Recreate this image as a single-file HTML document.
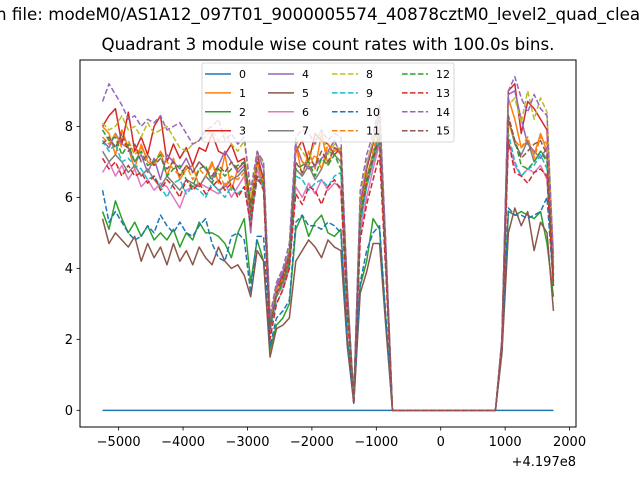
<!DOCTYPE html>
<html><head><meta charset="utf-8"><style>
body{margin:0;background:#fff;}
svg{display:block;font-family:"DejaVu Sans","Liberation Sans",sans-serif;}
</style></head><body>
<svg id="chart" width="640" height="480" viewBox="0 0 640 480" xmlns="http://www.w3.org/2000/svg">
<rect width="640" height="480" fill="#fff"/>
<text x="-4" y="20" font-size="16.7" fill="#000">n file: modeM0/AS1A12_097T01_9000005574_40878cztM0_level2_quad_clean</text>
<text x="328" y="50" font-size="16.7" text-anchor="middle" fill="#000">Quadrant 3 module wise count rates with 100.0s bins.</text>
<g id="plot"></g>
<rect x="80" y="60" width="496" height="367" fill="none" stroke="#000" stroke-width="1"/>
<g id="xticks"></g>
<g id="yticks"></g>
<text x="576" y="466" font-size="13" text-anchor="end">+4.197e8</text>
<g id="legend"></g>
</svg>
<script>
const xStart = -5250;
const xStep = 100;
const xTicks = [-5000,-4000,-3000,-2000,-1000,0,1000,2000];
const yTicks = [0,2,4,6,8];
const seriesNames = ["0","1","2","3","4","5","6","7","8","9","10","11","12","13","14","15"];
const Z = [0,0,0,0,0,0,0,0,0,0,0,0,0,0,0,0,0];
const s0 = new Array(71).fill(0);
const s1 = [8.0,7.8,7.2,7.9,7.4,6.8,7.5,7.0,6.9,7.3,6.6,7.1,6.5,6.8,6.9,6.3,6.6,7.0,6.4,7.2,6.2,6.8,7.0, 5.4,7.0,6.5,2.6,3.2,3.6,4.2, 7.5,6.6,7.3,6.8,7.8,6.9,7.4,7.2, 3.0,0.2,5.5,6.6,7.2,7.9,4.2, ...Z, 1.9, 8.8,8.2,7.4,7.6,7.2,7.8,7.3, 4.0];
const s2 = [5.6,5.1,5.9,5.4,5.0,5.3,4.9,5.2,4.8,5.0,4.8,5.1,4.6,5.0,4.8,5.3,5.0,5.0,4.9,4.7,4.3,5.0,5.4, 3.6,4.8,4.2,1.7,2.4,2.6,3.0, 5.1,5.5,4.9,5.3,5.5,5.0,4.9,5.1, 2.0,0.2,3.5,4.2,5.4,5.1,2.5, ...Z, 1.7, 5.6,5.5,5.6,5.5,5.4,5.6,4.7, 3.2];
const s3 = [8.0,8.3,8.5,7.5,8.4,7.3,7.7,7.2,8.0,8.3,7.0,7.5,7.1,7.4,6.9,7.4,7.3,7.8,7.3,7.2,7.5,7.0,7.1, 5.8,7.2,6.5,2.4,3.4,3.8,4.4, 7.3,7.6,7.0,7.8,7.6,7.5,7.2,7.4, 3.4,0.3,5.8,6.8,7.5,8.3,4.5, ...Z, 2.0, 9.0,9.2,7.8,8.7,8.5,8.2,7.9, 3.6];
const s4 = [7.6,7.4,7.8,7.5,7.4,7.0,7.2,6.7,7.1,6.5,7.2,7.0,6.8,7.1,6.7,7.0,6.8,6.5,6.9,7.3,7.0,6.7,6.9, 5.0,7.3,6.8,2.5,3.5,3.9,4.5, 7.5,7.0,6.8,6.9,7.1,7.3,7.6,7.2, 3.2,0.3,5.9,6.9,7.6,8.5,4.4, ...Z, 2.0, 8.9,9.0,8.2,7.5,7.3,7.1,7.4, 3.8];
const s5 = [5.4,4.7,5.0,4.8,4.6,4.9,4.2,4.7,4.3,4.6,4.1,4.7,4.2,4.5,4.1,4.6,4.3,4.1,4.6,4.2,4.0,4.1,3.8, 3.2,4.5,4.2,1.5,2.3,2.4,2.6, 4.2,4.5,4.8,4.6,4.3,4.8,4.6,4.5, 1.8,0.2,3.3,3.9,4.7,4.7,2.3, ...Z, 1.6, 5.0,5.7,5.2,5.6,4.5,5.3,5.0, 2.8];
const s6 = [6.7,7.0,6.6,6.9,6.5,6.8,6.3,6.5,6.2,6.4,6.3,6.0,5.7,6.2,6.3,6.4,6.3,6.2,6.1,6.4,6.0,6.3,6.6, 5.5,6.8,6.2,2.2,3.2,3.5,4.0, 6.3,6.0,6.4,6.1,6.5,6.2,6.4,6.3, 2.8,0.3,5.0,6.0,6.8,7.5,4.0, ...Z, 1.8, 7.6,6.9,6.6,6.8,6.7,6.9,6.5, 3.6];
const s7 = [7.3,7.0,7.2,7.0,6.7,6.9,6.6,6.8,6.5,6.3,6.6,6.4,6.2,6.5,6.4,6.3,6.6,6.4,6.2,6.3,6.5,6.6,6.8, 5.6,7.0,6.3,2.3,3.3,3.6,4.1, 6.8,6.6,6.9,6.5,6.8,7.3,7.2,7.0, 3.0,0.3,5.3,6.3,7.0,7.6,4.2, ...Z, 1.9, 8.2,7.5,7.2,7.6,7.0,7.3,7.1, 4.0];
const s8 = [8.1,7.9,8.0,8.3,7.9,8.0,7.7,8.1,7.8,7.9,8.0,7.7,7.4,7.3,7.5,7.6,7.7,7.9,7.6,7.8,7.5,7.3,7.6, 6.0,7.2,7.0,2.7,3.6,4.0,4.6, 7.6,7.3,7.0,7.6,7.9,7.2,7.5,7.3, 3.3,0.3,6.0,7.0,7.6,8.4,4.5, ...Z, 2.0, 8.6,8.8,8.1,9.0,8.2,8.8,8.4, 4.2];
const s9 = [7.6,7.3,7.5,7.0,7.1,6.9,6.8,6.5,6.6,6.3,6.0,6.4,6.5,6.1,6.3,6.2,6.0,6.4,6.2,6.0,6.3,6.1,6.3, 5.3,6.5,6.3,2.3,3.0,3.4,4.0, 6.6,6.5,6.2,6.4,6.5,6.3,6.6,6.7, 3.0,0.3,5.2,6.3,7.0,7.9,4.0, ...Z, 1.8, 7.8,7.0,6.6,6.8,6.9,7.2,6.8, 3.8];
const s10 = [6.2,5.3,5.6,5.3,5.0,4.8,4.9,5.2,5.0,5.5,5.2,5.0,5.3,5.0,4.9,5.2,5.4,4.7,4.3,4.2,4.9,5.0,4.8, 3.3,4.9,4.9,1.8,2.6,2.8,3.1, 5.3,5.5,5.2,5.2,5.1,5.3,5.2,5.0, 2.0,0.2,3.6,4.5,5.0,5.2,2.6, ...Z, 1.7, 5.7,5.5,5.5,5.4,5.5,5.6,6.0, 3.5];
const s11 = [7.7,7.5,7.8,7.4,7.6,7.2,7.4,7.1,6.9,7.3,7.0,6.8,6.6,6.9,6.5,6.8,6.6,6.9,6.7,6.3,6.6,6.5,6.7, 5.6,7.0,6.4,2.5,3.4,3.7,4.3, 7.4,7.0,6.9,7.2,6.8,7.5,7.3,7.4, 3.1,0.3,5.6,6.5,7.3,8.0,4.1, ...Z, 1.9, 8.1,7.6,7.4,7.7,7.1,7.7,7.5, 4.4];
const s12 = [7.9,7.6,7.7,7.2,7.5,7.0,7.3,6.9,7.0,7.2,6.6,6.8,6.9,6.5,6.3,6.8,6.9,6.4,6.8,6.6,6.8,6.9,7.0, 5.7,6.6,6.4,2.4,3.2,3.6,4.2, 6.8,6.9,7.0,6.6,7.1,6.9,7.2,6.8, 3.1,0.3,5.5,6.5,7.2,7.8,4.3, ...Z, 1.9, 8.2,7.6,6.9,6.8,7.0,7.3,7.0, 3.5];
const s13 = [7.1,6.8,7.0,6.6,6.9,6.6,6.7,6.4,6.6,6.2,6.5,6.3,6.0,6.5,6.2,6.4,6.1,6.3,6.5,6.2,6.4,6.0,6.3, 5.2,6.6,6.2,2.0,3.0,3.4,4.0, 6.1,5.8,6.3,6.2,5.8,6.3,6.5,6.2, 2.7,0.2,4.8,5.8,6.5,7.2,3.8, ...Z, 1.8, 7.6,6.7,6.6,6.4,6.7,6.8,6.6, 3.5];
const s14 = [8.7,9.2,8.9,8.6,8.2,8.3,8.0,8.2,8.1,8.3,7.9,8.0,8.1,7.8,7.5,7.6,7.9,8.0,8.2,7.6,7.8,7.5,7.7, 6.2,7.3,7.0,2.6,3.6,4.0,4.7, 7.7,7.9,7.8,7.5,7.9,7.6,7.8,7.7, 3.4,0.3,6.2,7.2,7.8,8.6,4.6, ...Z, 2.0, 9.0,9.4,8.8,8.4,8.9,8.5,8.3, 4.3];
const s15 = [7.5,7.7,7.4,7.8,7.3,7.5,7.0,7.2,6.9,7.1,6.8,7.0,6.6,6.9,6.7,7.0,6.8,6.6,6.9,6.7,7.0,6.8,7.0, 5.5,7.0,6.6,2.3,3.3,3.7,4.3, 7.0,6.7,7.1,6.9,7.3,7.0,7.4,7.3, 3.1,0.3,5.4,6.4,7.1,7.7,4.3, ...Z, 1.9, 8.3,7.6,7.1,7.3,7.5,7.6,7.2, 3.8];
const seriesValues = [s0,s1,s2,s3,s4,s5,s6,s7,s8,s9,s10,s11,s12,s13,s14,s15];

const NS = "http://www.w3.org/2000/svg";
const colors = ["#1f77b4","#ff7f0e","#2ca02c","#d62728","#9467bd","#8c564b","#e377c2","#7f7f7f","#bcbd22","#17becf"];
const L=80,R=576,T=60,B=427;
let n = Math.max(...seriesValues.map(s=>s.length));
let xMin = xStart, xMax = xStart + (n-1)*xStep;
let xpad = (xMax-xMin)*0.05;
let allV = [].concat(...seriesValues);
let yMin = Math.min(...allV), yMax = Math.max(...allV);
let ypad = (yMax-yMin)*0.05;
const x0 = xMin-xpad, x1 = xMax+xpad, y0 = yMin-ypad, y1 = yMax+ypad;
function xs(v){return L+(v-x0)/(x1-x0)*(R-L);}
function ys(v){return B-(v-y0)/(y1-y0)*(B-T);}
function mk(tag,attrs,parent){const e=document.createElementNS(NS,tag);for(const k in attrs)e.setAttribute(k,attrs[k]);parent.appendChild(e);return e;}

const plot=document.getElementById('plot');
seriesValues.forEach((s,si)=>{
  const pts=s.map((v,i)=>xs(xStart+i*xStep).toFixed(2)+","+ys(v).toFixed(2)).join(" ");
  const a={points:pts,fill:"none",stroke:colors[si%10],"stroke-width":1.5,"stroke-linejoin":"round"};
  if(si>=8)a["stroke-dasharray"]="5.55,2.4";
  const p=mk('polyline',a,plot);
  
  
});

const xg=document.getElementById('xticks');
xTicks.forEach(t=>{
  const x=xs(t);
  const l=mk('line',{x1:x,x2:x,y1:B,y2:B+3.5,stroke:"#000","stroke-width":0.8},xg);
  
  
  const tx=mk('text',{x:x,y:B+19,"font-size":13,"text-anchor":"middle"},xg);
  tx.textContent=(t<0?"\u2212"+(-t):String(t));
  
  
});
const yg=document.getElementById('yticks');
yTicks.forEach(t=>{
  const y=ys(t);
  const l=mk('line',{x1:L-3.5,x2:L,y1:y,y2:y,stroke:"#000","stroke-width":0.8},yg);
  
  
  const tx=mk('text',{x:L-7,y:y+4.8,"font-size":13,"text-anchor":"end"},yg);
  tx.textContent=String(t);
  
  
});

const lg=document.getElementById('legend');
const box=mk('rect',{x:202,y:63,width:252,height:79,rx:2,fill:"#fff","fill-opacity":0.8,stroke:"#ccc","stroke-width":0.8},lg);


const colX=[205,268,332,402];
seriesNames.forEach((nm,si)=>{
  const c=Math.floor(si/4), r=si%4;
  const x=colX[c], y=74+r*18.9;
  const g=mk('g',{},lg);
  
  
  const a={x1:x,x2:x+26,y1:y,y2:y,stroke:colors[si%10],"stroke-width":1.5};
  if(si>=8)a["stroke-dasharray"]="5.55,2.4";
  mk('line',a,g);
  const t=mk('text',{x:x+34,y:y+4,"font-size":11},g);
  t.textContent=nm;
});
</script>
</body></html>
